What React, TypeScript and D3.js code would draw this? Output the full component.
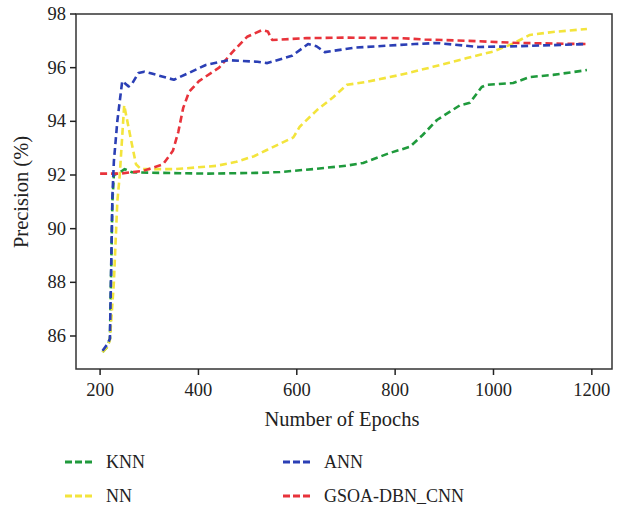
import React from "react";
import * as d3 from "d3";

const xTicks = [200, 400, 600, 800, 1000, 1200];
const yTicks = [86, 88, 90, 92, 94, 96, 98];

const knn: [number, number][] = [
  [205, 85.4], [215, 85.6], [220, 85.9], [225, 91], [228, 92], [240, 92.1], [250, 92.22], [265, 92.1],
  [320, 92.08], [420, 92.05], [520, 92.08], [566, 92.11], [633, 92.22], [702, 92.35], [735, 92.45],
  [789, 92.82], [830, 93.05], [856, 93.49], [885, 94.05], [932, 94.6], [952, 94.69], [976, 95.28],
  [986, 95.36], [1040, 95.43], [1074, 95.65], [1121, 95.73], [1190, 95.91],
];
const nn: [number, number][] = [
  [205, 85.4], [215, 85.6], [220, 85.86], [228, 88], [235, 91], [240, 92], [249, 94.6], [263, 93.3],
  [273, 92.4], [283, 92.22], [354, 92.22], [436, 92.34], [477, 92.49], [513, 92.7], [539, 92.93],
  [593, 93.4], [606, 93.8], [641, 94.42], [674, 94.9], [702, 95.36], [742, 95.47], [810, 95.73],
  [877, 96.03], [946, 96.36], [999, 96.6], [1040, 96.9], [1074, 97.22], [1121, 97.33], [1190, 97.44],
];
const ann: [number, number][] = [
  [205, 85.45], [215, 85.7], [220, 85.9], [225, 91.2], [228, 92.5], [235, 94], [245, 95.5], [258, 95.3],
  [265, 95.4], [278, 95.8], [290, 95.85], [305, 95.78], [350, 95.55], [380, 95.8], [415, 96.1],
  [460, 96.28], [520, 96.22], [540, 96.17], [590, 96.44], [623, 96.88], [640, 96.8], [657, 96.58],
  [720, 96.75], [840, 96.88], [885, 96.92], [970, 96.77], [1050, 96.8], [1190, 96.88],
];
const gsoa: [number, number][] = [
  [200, 92.05], [240, 92.05], [287, 92.15], [328, 92.4], [348, 92.9], [359, 93.6], [369, 94.5],
  [381, 95.1], [401, 95.5], [442, 96.0], [470, 96.6], [499, 97.15], [529, 97.4], [541, 97.35],
  [550, 97.03], [620, 97.1], [700, 97.12], [810, 97.1], [860, 97.05], [950, 97.0], [1050, 96.92],
  [1190, 96.88],
];

const series = [
  { name: "KNN", data: knn, color: "#1f9a3c" },
  { name: "NN", data: nn, color: "#f3e43c" },
  { name: "GSOA-DBN_CNN", data: gsoa, color: "#e8333b" },
  { name: "ANN", data: ann, color: "#2b3fb5" },
];

const legendItems = [
  { name: "KNN", color: "#1f9a3c", col: 0, row: 0 },
  { name: "NN", color: "#f3e43c", col: 0, row: 1 },
  { name: "ANN", color: "#2b3fb5", col: 1, row: 0 },
  { name: "GSOA-DBN_CNN", color: "#e8333b", col: 1, row: 1 },
];

const W = 627, H = 509;
const L = 76, R = 612, T = 14, B = 369;
const font = "'Liberation Serif', 'DejaVu Serif', serif";

export default function App() {
  const x = d3.scaleLinear().domain([151, 1241]).range([L, R]);
  const y = d3.scaleLinear().domain([84.77, 98]).range([B, T]);
  const line = d3.line<[number, number]>().x(d => x(d[0])).y(d => y(d[1]));
  return (
    <svg width={W} height={H} style={{ position: "absolute", left: 0, top: 0, background: "#fff" }}>
      {series.map(s => (
        <path key={s.name} d={line(s.data) || ""} fill="none" stroke={s.color} strokeWidth={2.6}
          strokeDasharray="7,4" strokeLinejoin="round" />
      ))}
      <rect x={L} y={T} width={R - L} height={B - T} fill="none" stroke="#333" strokeWidth={1.5} />
      {xTicks.map(t => (
        <g key={t}>
          <line x1={x(t)} x2={x(t)} y1={B} y2={B + 6} stroke="#222" strokeWidth={1.5} />
          <text x={x(t)} y={B + 27} textAnchor="middle" fontFamily={font} fontSize={18.5} fill="#222">{t}</text>
        </g>
      ))}
      {yTicks.map(t => (
        <g key={t}>
          <line x1={L - 6} x2={L} y1={y(t)} y2={y(t)} stroke="#222" strokeWidth={1.5} />
          <text x={L - 10} y={y(t) + 6} textAnchor="end" fontFamily={font} fontSize={18.5} fill="#222">{t}</text>
        </g>
      ))}
      <text x={342} y={426} textAnchor="middle" fontFamily={font} fontSize={20.5} fill="#222">Number of Epochs</text>
      <text transform={`translate(28,${192}) rotate(-90)`} textAnchor="middle" fontFamily={font} fontSize={20.5} fill="#222">Precision (%)</text>
      {legendItems.map(it => {
        const lx = it.col === 0 ? 65 : 283;
        const ly = it.row === 0 ? 462 : 496;
        return (
          <g key={it.name}>
            <line x1={lx} x2={lx + 28} y1={ly} y2={ly} stroke={it.color} strokeWidth={3} strokeDasharray="7,3" />
            <text x={lx + 41} y={ly + 6} fontFamily={font} fontSize={18} fill="#222">{it.name}</text>
          </g>
        );
      })}
    </svg>
  );
}
